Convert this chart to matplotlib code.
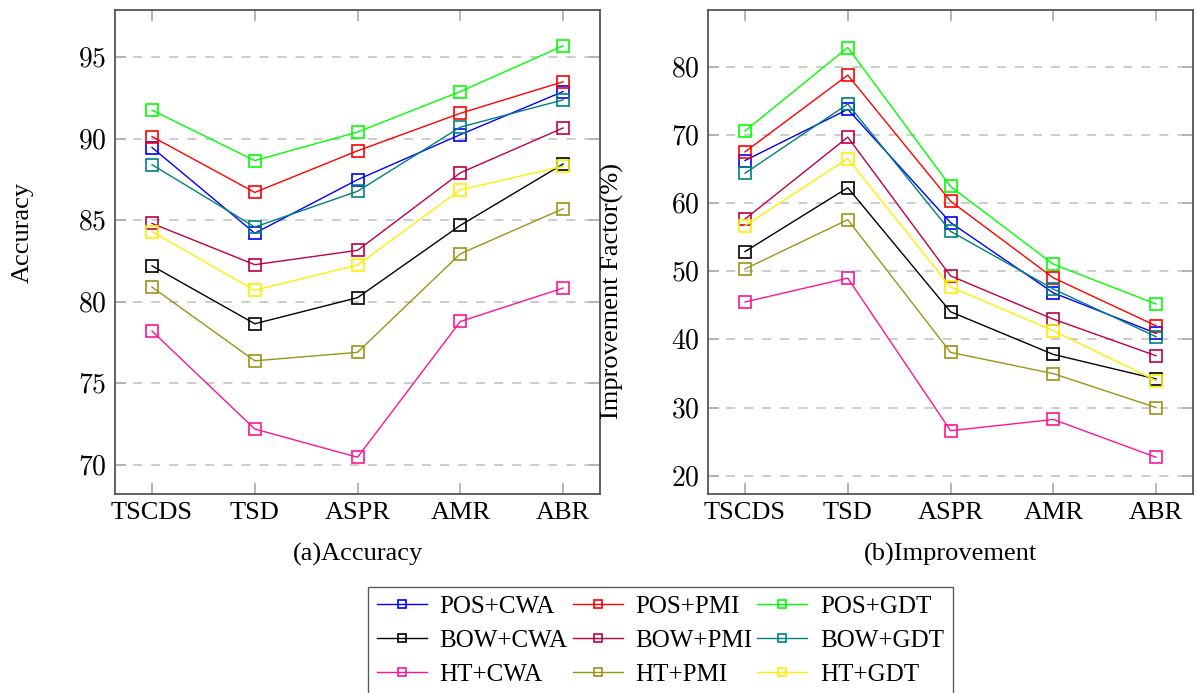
import numpy as np
import matplotlib
matplotlib.use("Agg")
import matplotlib.pyplot as plt
from matplotlib.ticker import FuncFormatter

plt.rcParams['font.family'] = ['Liberation Serif', 'DejaVu Serif']
plt.rcParams['mathtext.fontset'] = 'cm'

# categories on the x axis
datasets = ['TSCDS', 'TSD', 'ASPR', 'AMR', 'ABR']

series_names = ['POS+CWA', 'POS+PMI', 'POS+GDT',
                'BOW+CWA', 'BOW+PMI', 'BOW+GDT',
                'HT+CWA', 'HT+PMI', 'HT+GDT']

# (a) accuracy
acc_pos_cwa = [89.45, 84.2, 87.48, 90.24, 92.88]
acc_pos_pmi = [90.12, 86.7, 89.25, 91.55, 93.48]
acc_pos_gdt = [91.74, 88.65, 90.4, 92.88, 95.68]
acc_bow_cwa = [82.2, 78.65, 80.25, 84.68, 88.44]
acc_bow_pmi = [84.8, 82.27, 83.15, 87.9, 90.65]
acc_bow_gdt = [88.4, 84.58, 86.77, 90.7, 92.37]
acc_ht_cwa = [78.2, 72.2, 70.47, 78.79, 80.84]
acc_ht_pmi = [80.9, 76.38, 76.9, 82.94, 85.7]
acc_ht_gdt = [84.3, 80.7, 82.25, 86.86, 88.3]

# (b) improvement factor (%)
imp_pos_cwa = [66.27, 73.78, 57.15, 46.84, 40.9]
imp_pos_pmi = [67.54, 78.8, 60.3, 49.04, 42.0]
imp_pos_gdt = [70.6, 82.86, 62.46, 51.04, 45.2]
imp_bow_cwa = [52.9, 62.27, 44.06, 37.8, 34.2]
imp_bow_pmi = [57.67, 69.7, 49.33, 42.98, 37.6]
imp_bow_gdt = [64.4, 74.57, 55.87, 47.4, 40.4]
imp_ht_cwa = [45.5, 49.0, 26.6, 28.25, 22.7]
imp_ht_pmi = [50.35, 57.58, 38.1, 34.98, 30.0]
imp_ht_gdt = [56.7, 66.56, 47.7, 41.28, 33.95]

acc = [acc_pos_cwa, acc_pos_pmi, acc_pos_gdt, acc_bow_cwa, acc_bow_pmi,
       acc_bow_gdt, acc_ht_cwa, acc_ht_pmi, acc_ht_gdt]
imp = [imp_pos_cwa, imp_pos_pmi, imp_pos_gdt, imp_bow_cwa, imp_bow_pmi,
       imp_bow_gdt, imp_ht_cwa, imp_ht_pmi, imp_ht_gdt]

colors = ['#0000ff', '#ff0000', '#00ff00', '#000000', '#c0003f',
          '#008080', '#ff1493', '#9c9418', '#ffee00']

fig = plt.figure(figsize=(11.97, 6.93), dpi=100)
ax1 = fig.add_axes([0.0961, 0.2872, 0.4052, 0.6984])
ax2 = fig.add_axes([0.5915, 0.2872, 0.4052, 0.6984])

x = np.arange(len(datasets))


def style(ax, ylim, yticks):
    ax.set_xlim(-0.36, 4.36)
    ax.set_ylim(*ylim)
    ax.set_yticks(yticks)
    ax.set_xticks(x)
    ax.set_xticklabels(datasets, fontsize=19)
    ax.yaxis.set_major_formatter(FuncFormatter(lambda v, p: r'$%d$' % v))
    ax.tick_params(axis='y', labelsize=20)
    ax.tick_params(direction='in', length=8, width=1.3, color='#b0b0b0',
                   top=True, right=True, pad=6)
    ax.grid(axis='y', color='#c8c8c8', linestyle=(0, (5, 5)), lw=1.3)
    ax.set_axisbelow(True)
    for s in ax.spines.values():
        s.set_color('#555555')
        s.set_linewidth(1.3)


handles = []
for i in range(9):
    h, = ax1.plot(x, acc[i], color=colors[i], lw=1.0, marker='s', ms=8.5,
                  mfc='none', mew=1.2, label=series_names[i])
    ax2.plot(x, imp[i], color=colors[i], lw=1.0, marker='s', ms=8.5,
             mfc='none', mew=1.2)
    handles.append(h)

style(ax1, (68.22, 97.88), [70, 75, 80, 85, 90, 95])
style(ax2, (17.31, 88.37), [20, 30, 40, 50, 60, 70, 80])

fig.text(0.019, 0.665, 'Accuracy', rotation=90, fontsize=19,
         ha='center', va='center')
fig.text(0.512, 0.58, 'Improvement Factor(%)', rotation=90, fontsize=19,
         ha='center', va='center')

fig.text(0.299, 0.2, '(a)Accuracy', fontsize=19, ha='center', va='center')
fig.text(0.794, 0.2, '(b)Improvement', fontsize=19, ha='center', va='center')

# legend is filled column-wise, reorder so rows read POS / BOW / HT
order = [0, 3, 6, 1, 4, 7, 2, 5, 8]
fig.legend(handles=[handles[k] for k in order],
           labels=[series_names[k] for k in order],
           loc='upper center', bbox_to_anchor=(0.5518, 0.153),
           ncol=3, fontsize=18, frameon=True, fancybox=False,
           edgecolor='#333333', handlelength=2.0, columnspacing=0.2,
           handletextpad=0.5, labelspacing=0.45, borderpad=0.35,
           borderaxespad=0, markerscale=0.75)

fig.savefig('out.png', dpi=100)
